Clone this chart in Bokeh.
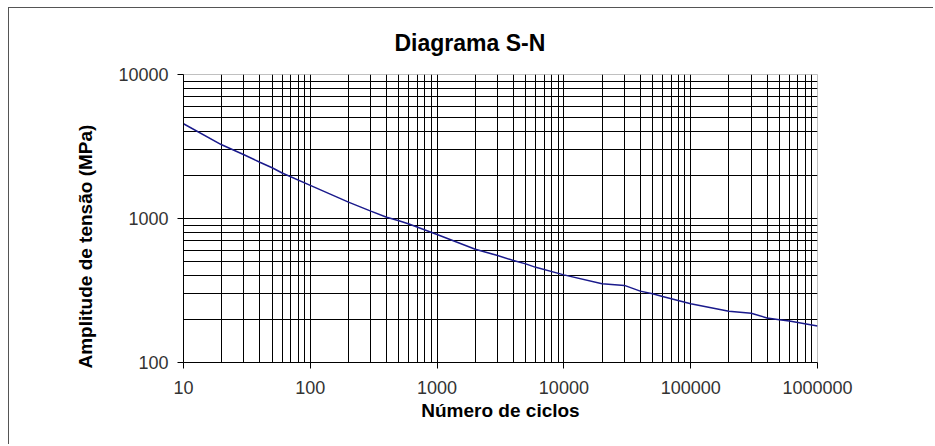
from bokeh.plotting import figure
from bokeh.models import FixedTicker, Title
from bokeh.embed import file_html
from bokeh.resources import INLINE

# Data
cycles = [10, 20, 30, 40, 50, 60, 100, 200, 300, 400, 500, 600, 1000, 2000, 3000, 4000,
          5000, 6000, 10000, 20000, 30000, 40000, 50000, 60000, 100000, 200000, 300000,
          400000, 500000, 600000, 1000000]
stress = [4550, 3250, 2770, 2460, 2250, 2070, 1700, 1300, 1125, 1020, 965, 915, 775, 612, 553, 511,
          484, 458, 406, 352, 343, 313, 300, 287, 256, 227, 220, 204, 198, 194, 179]

x_major = [10, 100, 1000, 10000, 100000, 1000000]
x_labels = ["10", "100", "1000", "10000", "100000", "1000000"]
y_major = [100, 1000, 10000]
y_labels = ["100", "1000", "10000"]
minor_mult = [1, 2, 3, 4, 5, 6, 7, 8, 9]

x_grid = [d * m for d in x_major[:-1] for m in minor_mult] + [x_major[-1]]
y_grid = [d * m for d in y_major[:-1] for m in minor_mult]

FONT = "Liberation Sans"

p = figure(width=925, height=437, x_axis_type="log", y_axis_type="log",
           x_range=(10, 1000000), y_range=(100, 10000),
           output_backend="svg", toolbar_location=None,
           min_border_left=174, min_border_right=117, min_border_top=66, min_border_bottom=83)
p.styles = {"margin-left": "8px", "margin-top": "7px",
            "border-left": "1px solid #555555", "border-top": "1px solid #555555"}

p.line(cycles, stress, line_color="#1a1a8c", line_width=1.5)

p.xaxis.ticker = FixedTicker(ticks=x_major, minor_ticks=[])
p.yaxis.ticker = FixedTicker(ticks=y_major, minor_ticks=[])
p.xaxis.major_label_overrides = {t: l for t, l in zip(x_major, x_labels)}
p.yaxis.major_label_overrides = {t: l for t, l in zip(y_major, y_labels)}
p.xgrid.ticker = FixedTicker(ticks=x_grid)
p.ygrid.ticker = FixedTicker(ticks=y_grid)
for g in (p.xgrid, p.ygrid):
    g.grid_line_color = "black"
    g.grid_line_width = 1

for ax in (p.xaxis, p.yaxis):
    ax.axis_line_color = "black"
    ax.major_tick_line_color = "black"
    ax.major_tick_out = 6
    ax.major_tick_in = 0
    ax.minor_tick_out = 0
    ax.minor_tick_in = 0
    ax.major_label_text_font = FONT
    ax.major_label_text_font_size = "18px"
    ax.major_label_text_color = "#333333"
    ax.axis_label_text_font = FONT
    ax.axis_label_text_font_size = "19px"
    ax.axis_label_text_font_style = "bold"
    ax.axis_label_text_color = "black"

p.xaxis.axis_label = "Número de ciclos"
p.xaxis.major_label_standoff = 12
p.yaxis.major_label_standoff = 9
p.xaxis.axis_label_standoff = 3

p.outline_line_color = "#c0c0c0"
p.outline_line_width = 1

ylab = Title(text="Amplitude de tensão (MPa)", align="left", offset=-6, standoff=40,
             text_font=FONT, text_font_size="19px", text_font_style="bold", text_color="black")
p.add_layout(ylab, "left")

p.title.text = "Diagrama S-N"
p.title.align = "left"
p.title.offset = 211
p.title.standoff = 38
p.title.text_font = FONT
p.title.text_font_size = "23px"
p.title.text_font_style = "bold"
p.title.text_color = "black"

open("out.html", "w").write(file_html(p, INLINE))
